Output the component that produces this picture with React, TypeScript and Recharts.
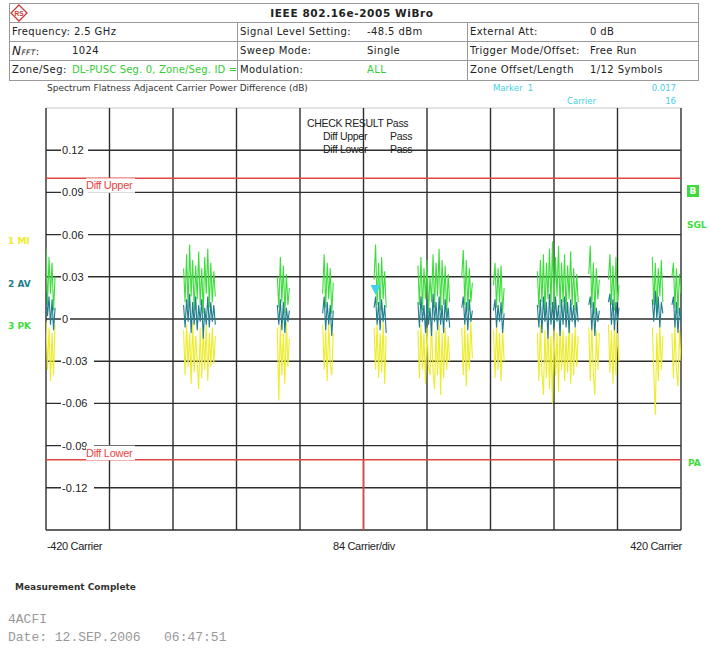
import React from 'react';
import { LineChart, Line, XAxis, YAxis, ReferenceLine, ReferenceDot } from 'recharts';

// ---- data (carriers, step 2 inside each used-carrier cluster) ----
const clusterStarts = [-420, -238, -114, -54, 14, 72, 130, 172, 230, 298, 324, 382, 408];
const carrierStep = 2;

const pkValues: number[][] = [
  [0.050, 0.010, 0.044, 0.018, 0.040, 0.006, 0.030],
  [0.036, 0.012, 0.046, 0.008, 0.053, 0.016, 0.042, 0.006, 0.038, 0.014, 0.048, 0.010, 0.036, 0.004, 0.044, 0.018, 0.050, 0.008, 0.040, 0.012, 0.034, 0.016],
  [0.030, 0.008, 0.044, 0.012, 0.038, 0.004, 0.032, 0.010, 0.022],
  [0.018, 0.046, 0.008, 0.040, 0.014, 0.036, 0.004, 0.026],
  [0.028, 0.053, 0.010, 0.040, 0.006, 0.044, 0.014, 0.034, 0.008],
  [0.038, 0.010, 0.044, 0.006, 0.036, 0.014, 0.042, 0.004, 0.030, 0.012, 0.046, 0.008, 0.040, 0.016, 0.050, 0.006, 0.042, 0.010, 0.038, 0.004, 0.032, 0.012],
  [0.030, 0.049, 0.010, 0.042, 0.006, 0.036, 0.012, 0.026],
  [0.024, 0.040, 0.008, 0.036, 0.012, 0.038, 0.004, 0.022],
  [0.034, 0.008, 0.042, 0.012, 0.046, 0.004, 0.040, 0.014, 0.050, 0.010, 0.055, 0.006, 0.044, 0.016, 0.052, 0.008, 0.040, 0.012, 0.046, 0.004, 0.038, 0.014, 0.048, 0.010, 0.036, 0.006, 0.032, 0.012],
  [0.032, 0.052, 0.008, 0.040, 0.004, 0.036, 0.014, 0.028],
  [0.028, 0.046, 0.010, 0.038, 0.006, 0.044, 0.012, 0.024],
  [0.044, 0.010, 0.040, 0.004, 0.036, 0.016, 0.042, 0.012],
  [0.030, 0.040, 0.008, 0.036, 0.004, 0.032, 0.018],
];

const avValues: number[][] = [
  [0.020, 0.002, 0.016, -0.004, 0.014, -0.008, 0.008],
  [0.010, -0.006, 0.014, -0.002, 0.018, -0.010, 0.012, -0.004, 0.016, -0.008, 0.010, -0.002, 0.014, -0.014, 0.008, -0.004, 0.016, -0.006, 0.012, -0.002, 0.010, -0.004],
  [0.010, -0.004, 0.014, -0.008, 0.012, -0.010, 0.008, -0.002, 0.006],
  [0.004, 0.016, -0.008, 0.012, -0.004, 0.010, -0.012, 0.006],
  [0.008, 0.016, -0.004, 0.012, -0.008, 0.014, -0.002, 0.010, -0.010],
  [0.012, -0.006, 0.016, -0.002, 0.010, -0.010, 0.014, -0.004, 0.008, -0.012, 0.018, -0.002, 0.012, -0.008, 0.016, -0.004, 0.010, -0.010, 0.014, -0.002, 0.008, -0.006],
  [0.008, 0.016, -0.004, 0.012, -0.008, 0.014, -0.002, 0.006],
  [0.006, 0.014, -0.006, 0.010, -0.002, 0.012, -0.010, 0.004],
  [0.010, -0.006, 0.014, -0.010, 0.016, -0.002, 0.012, -0.014, 0.018, -0.004, 0.012, -0.008, 0.016, -0.002, 0.010, -0.012, 0.014, -0.004, 0.016, -0.006, 0.012, -0.010, 0.014, -0.002, 0.010, -0.006, 0.012, -0.002],
  [0.010, 0.016, -0.008, 0.012, -0.012, 0.008, -0.002, 0.006],
  [0.012, 0.018, -0.004, 0.014, -0.008, 0.012, -0.002, 0.008],
  [0.014, -0.002, 0.020, 0.000, 0.016, -0.006, 0.012, 0.004],
  [0.010, 0.016, -0.006, 0.012, -0.010, 0.008, -0.002],
];

const miValues: number[][] = [
  [-0.002, -0.036, -0.006, -0.044, -0.010, -0.040, -0.004],
  [-0.008, -0.040, -0.004, -0.034, -0.010, -0.046, -0.002, -0.038, -0.012, -0.030, -0.050, -0.006, -0.042, -0.008, -0.036, -0.004, -0.044, -0.010, -0.034, -0.006, -0.032, -0.012],
  [-0.006, -0.058, -0.004, -0.040, -0.010, -0.046, -0.002, -0.034, -0.014],
  [-0.004, -0.036, -0.008, -0.044, -0.002, -0.032, -0.040, -0.010],
  [-0.006, -0.036, -0.004, -0.042, -0.010, -0.038, -0.002, -0.046, -0.012],
  [-0.008, -0.042, -0.004, -0.036, -0.010, -0.046, -0.006, -0.034, -0.040, -0.002, -0.038, -0.050, -0.008, -0.040, -0.004, -0.054, -0.010, -0.042, -0.006, -0.036, -0.012, -0.030],
  [-0.006, -0.040, -0.004, -0.048, -0.010, -0.036, -0.002, -0.028],
  [-0.008, -0.042, -0.004, -0.036, -0.010, -0.044, -0.006, -0.030],
  [-0.010, -0.044, -0.004, -0.038, -0.054, -0.008, -0.042, -0.002, -0.050, -0.012, -0.060, -0.006, -0.040, -0.010, -0.052, -0.004, -0.036, -0.008, -0.044, -0.012, -0.038, -0.002, -0.046, -0.010, -0.040, -0.006, -0.034, -0.012],
  [-0.006, -0.044, -0.004, -0.038, -0.054, -0.008, -0.036, -0.010],
  [-0.004, -0.038, -0.008, -0.046, -0.002, -0.040, -0.010, -0.030],
  [-0.006, -0.038, -0.068, -0.010, -0.044, -0.004, -0.036, -0.012],
  [-0.010, -0.042, -0.004, -0.036, -0.048, -0.008, -0.030],
];

const xTicks = [-420, -336, -252, -168, -84, 0, 84, 168, 252, 336, 420];
const yTicks = [-0.15, -0.12, -0.09, -0.06, -0.03, 0, 0.03, 0.06, 0.09, 0.12];
const yTickLabels = ['', '-0.12', '-0.09', '-0.06', '-0.03', '0', '0.03', '0.06', '0.09', '0.12'];
const yTop = 0.15;
const limitUpper = 0.1;
const limitLower = -0.1;
const markerCarrier = 16;
const markerValue = 0.017;

const C_PK = '#3ddc3d';
const C_AV = '#1f7d8c';
const C_MI = '#ecec2a';
const C_CYAN = '#45d0e6';
const C_RED = '#e64545';
const C_GRID = '#2e2e2e';

type Row = { c: number; pk: number | null; av: number | null; mi: number | null };
const data: Row[] = [];
clusterStarts.forEach((start, i) => {
  pkValues[i].forEach((pk, j) => {
    data.push({ c: start + carrierStep * j, pk, av: avValues[i][j], mi: miValues[i][j] });
  });
  const gap = start + carrierStep * (pkValues[i].length - 1) + 1;
  if (gap < 420) data.push({ c: gap, pk: null, av: null, mi: null });
});

const PLOT_FONT = '"Liberation Sans", Arial, sans-serif';
const HDR_FONT = '"DejaVu Sans", sans-serif';

const makeTickLabel = (label: string) => (p: any) => {
  if (!label) return null;
  const vb = p.viewBox || {};
  const x = vb.x ?? 0;
  const y = vb.y ?? 0;
  const w = label.length * 6 + 3;
  return (
    <g>
      <rect x={x + 15} y={y - 6.5} width={w} height={13} fill="#fff" />
      <text x={x + 16} y={y} dy={3.9} fontSize={11} fontFamily={PLOT_FONT} letterSpacing={0.1} fill="#222">
        {label}
      </text>
    </g>
  );
};

const makeDiffLabel = (text: string, below: boolean) => (p: any) => {
  const vb = p.viewBox || {};
  const x = vb.x ?? 0;
  const y = vb.y ?? 0;
  const ty = below ? y + 7 : y - 7;
  return (
    <g>
      <rect x={x + 40} y={ty - 7} width={49} height={14.5} fill="#fff" />
      <text x={x + 40} y={ty} dy={3.9} fontSize={11} fontFamily={PLOT_FONT} letterSpacing={-0.3} fill={C_RED}>
        {text}
      </text>
    </g>
  );
};

const MarkerShape = (p: any) => {
  const { cx, cy } = p;
  return <polygon points={`${cx - 5},${cy - 10} ${cx + 5},${cy - 10} ${cx},${cy}`} fill={C_CYAN} />;
};

const T = ({ x, y, children, style, right, center }: any) => {
  const s: React.CSSProperties = {
    position: 'absolute',
    top: y,
    whiteSpace: 'pre',
    lineHeight: 1,
    fontFamily: HDR_FONT,
    fontSize: 10,
    letterSpacing: 0.4,
    color: '#222',
    transform: center ? 'translate(-50%, -50%)' : right ? 'translate(-100%, -50%)' : 'translateY(-50%)',
    left: x,
    ...style,
  };
  return <span style={s}>{children}</span>;
};

const HLine = ({ x1, x2, y }: any) => (
  <div style={{ position: 'absolute', left: x1, top: y, width: x2 - x1, height: 1, background: '#999' }} />
);
const VLine = ({ x, y1, y2 }: any) => (
  <div style={{ position: 'absolute', left: x, top: y1, width: 1, height: y2 - y1, background: '#999' }} />
);

const plotText = { fontFamily: PLOT_FONT, fontSize: 10.5, letterSpacing: -0.3, color: '#222' };
const axisText = { fontFamily: PLOT_FONT, fontSize: 11, letterSpacing: -0.3, color: '#222' };
const green = '#33cc33';

export default function App() {
  return (
    <div style={{ position: 'absolute', left: 0, top: 0, width: 710, height: 651, background: '#fff', overflow: 'hidden' }}>
      <div style={{ position: 'absolute', left: 0, top: 0 }}>
        <LineChart width={710} height={651} data={data} margin={{ top: 108, right: 29, bottom: 121, left: 46 }}>
          <XAxis dataKey="c" type="number" domain={[-420, 420]} allowDataOverflow hide />
          <YAxis type="number" domain={[-0.15, 0.15]} allowDataOverflow hide />
          <ReferenceLine y={yTop} stroke="#c8c8c8" strokeWidth={1} />
          {xTicks.map((t) => (
            <ReferenceLine key={'vx' + t} x={t} stroke={C_GRID} strokeWidth={1.4} />
          ))}
          {yTicks.map((t, i) => (
            <ReferenceLine
              key={'hy' + t}
              y={t}
              stroke={C_GRID}
              strokeWidth={1.4}
              label={{ content: makeTickLabel(yTickLabels[i]) } as any}
            />
          ))}
          <Line dataKey="mi" type="linear" stroke={C_MI} strokeWidth={1.1} dot={false} connectNulls={false} isAnimationActive={false} />
          <Line dataKey="pk" type="linear" stroke={C_PK} strokeWidth={1.1} dot={false} connectNulls={false} isAnimationActive={false} />
          <Line dataKey="av" type="linear" stroke={C_AV} strokeWidth={1.1} dot={false} connectNulls={false} isAnimationActive={false} />
          <ReferenceLine y={limitUpper} stroke={C_RED} strokeWidth={1.5} label={{ content: makeDiffLabel('Diff Upper', true) } as any} />
          <ReferenceLine y={limitLower} stroke={C_RED} strokeWidth={1.5} label={{ content: makeDiffLabel('Diff Lower', false) } as any} />
          <ReferenceLine segment={[{ x: 0, y: limitLower }, { x: 0, y: -0.15 }]} stroke={C_RED} strokeWidth={1.5} />
          <ReferenceDot x={markerCarrier} y={markerValue} shape={<MarkerShape />} />
        </LineChart>
      </div>

      {/* header table */}
      <HLine x1={9} x2={699} y={3} />
      <HLine x1={9} x2={699} y={22} />
      <HLine x1={9} x2={699} y={41} />
      <HLine x1={9} x2={699} y={60} />
      <HLine x1={9} x2={699} y={80} />
      <VLine x={9} y1={3} y2={81} />
      <VLine x={698} y1={3} y2={81} />
      <VLine x={237} y1={22} y2={81} />
      <VLine x={467} y1={22} y2={81} />
      <svg style={{ position: 'absolute', left: 10, top: 4 }} width={18} height={18}>
        <polygon points="9,1 17,9 9,17 1,9" fill="none" stroke="#c83a3a" strokeWidth={1.3} />
        <text x={9} y={11.5} textAnchor="middle" fontSize={6.5} fontFamily={PLOT_FONT} fill="#c83a3a" fontWeight="bold">RS</text>
      </svg>
      <T x={352} y={12.5} center style={{ fontWeight: 'bold', fontSize: 10.5, letterSpacing: 0.6 }}>IEEE 802.16e-2005 WiBro</T>

      <T x={12} y={32}>Frequency: 2.5 GHz</T>
      <T x={240} y={32}>Signal Level Setting:</T>
      <T x={367} y={32}>-48.5 dBm</T>
      <T x={470} y={32}>External Att:</T>
      <T x={590} y={32}>0 dB</T>

      <T x={12} y={51}>
        <span style={{ fontStyle: 'italic', fontSize: 12 }}>N</span>
        <span style={{ fontStyle: 'italic', fontSize: 7.5 }}>FFT</span>:
      </T>
      <T x={72} y={51}>1024</T>
      <T x={240} y={51}>Sweep Mode:</T>
      <T x={367} y={51}>Single</T>
      <T x={470} y={51}>Trigger Mode/Offset:</T>
      <T x={590} y={51}>Free Run</T>

      <T x={12} y={70}>Zone/Seg:</T>
      <T x={72} y={70} style={{ color: green, letterSpacing: 0.15 }}>DL-PUSC Seg. 0, Zone/Seg. ID =</T>
      <T x={240} y={70}>Modulation:</T>
      <T x={367} y={70} style={{ color: green }}>ALL</T>
      <T x={470} y={70}>Zone Offset/Length</T>
      <T x={590} y={70}>1/12 Symbols</T>

      {/* subtitle and marker info */}
      <T x={47} y={88} style={{ fontSize: 9, letterSpacing: 0, color: '#333' }}>Spectrum Flatness Adjacent Carrier Power Difference (dB)</T>
      <T x={493} y={88} style={{ fontSize: 8.5, letterSpacing: 0, color: C_CYAN }}>Marker  1</T>
      <T x={676} y={88} right style={{ fontSize: 8.5, letterSpacing: 0, color: C_CYAN }}>0.017</T>
      <T x={567} y={101} style={{ fontSize: 8.5, letterSpacing: 0, color: C_CYAN }}>Carrier</T>
      <T x={676} y={101} right style={{ fontSize: 8.5, letterSpacing: 0, color: C_CYAN }}>16</T>

      {/* trace legend */}
      <T x={8} y={241} style={{ fontWeight: 'bold', fontSize: 9, letterSpacing: 0, color: C_MI }}>1 MI</T>
      <T x={8} y={284} style={{ fontWeight: 'bold', fontSize: 9, letterSpacing: 0, color: C_AV }}>2 AV</T>
      <T x={8} y={326} style={{ fontWeight: 'bold', fontSize: 9, letterSpacing: 0, color: C_PK }}>3 PK</T>

      {/* right side indicators */}
      <div style={{ position: 'absolute', left: 687, top: 185, width: 12, height: 12, background: C_PK }} />
      <T x={693} y={191} center style={{ fontWeight: 'bold', fontSize: 9, letterSpacing: 0, color: '#fff' }}>B</T>
      <T x={687} y={225} style={{ fontWeight: 'bold', fontSize: 9, letterSpacing: 0, color: C_PK }}>SGL</T>
      <T x={688} y={463} style={{ fontWeight: 'bold', fontSize: 9, letterSpacing: 0, color: C_PK }}>PA</T>

      {/* check result */}
      <T x={307} y={123} style={plotText}>CHECK RESULT Pass</T>
      <T x={323} y={136} style={plotText}>Diff Upper</T>
      <T x={390} y={136} style={plotText}>Pass</T>
      <T x={323} y={149} style={plotText}>Diff Lower</T>
      <T x={390} y={149} style={plotText}>Pass</T>

      {/* x labels */}
      <T x={47} y={546} style={axisText}>-420 Carrier</T>
      <T x={364} y={546} center style={axisText}>84 Carrier/div</T>
      <T x={682} y={546} right style={axisText}>420 Carrier</T>

      {/* footer */}
      <T x={15} y={587} style={{ fontWeight: 'bold', fontSize: 9, letterSpacing: 0, color: '#333' }}>Measurement Complete</T>
      <T x={8} y={619} style={{ fontFamily: '"Courier New", "Liberation Mono", monospace', fontSize: 13, letterSpacing: 0, color: '#999' }}>4ACFI</T>
      <T x={8} y={637} style={{ fontFamily: '"Courier New", "Liberation Mono", monospace', fontSize: 13, letterSpacing: 0, color: '#999' }}>Date: 12.SEP.2006   06:47:51</T>
    </div>
  );
}
